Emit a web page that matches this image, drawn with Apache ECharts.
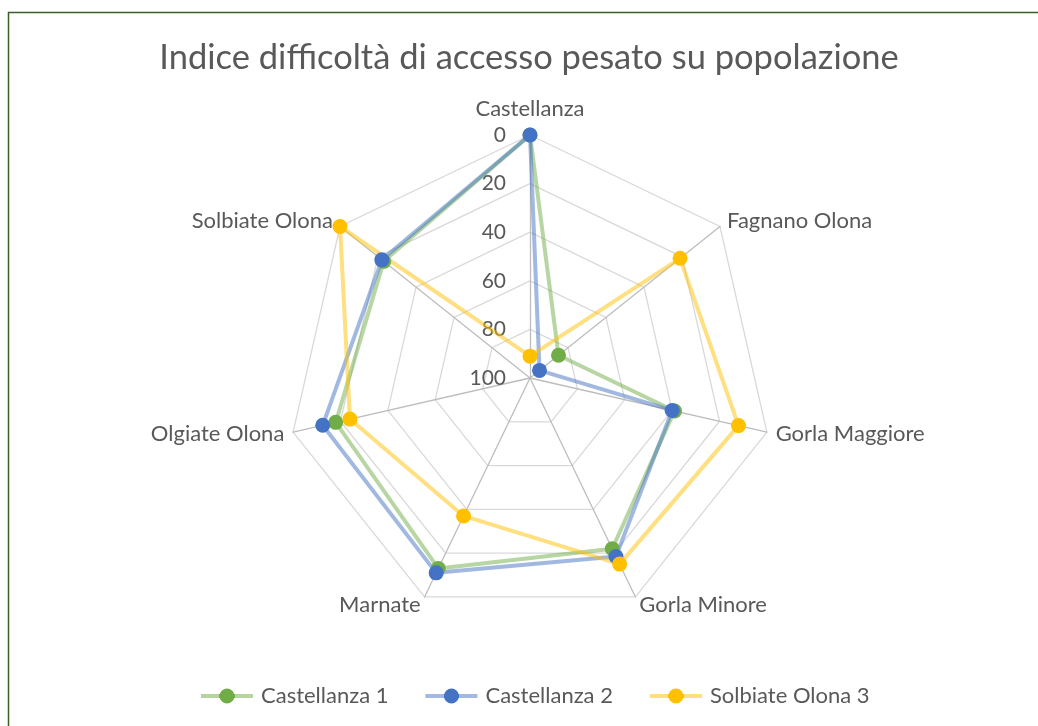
<!DOCTYPE html>
<html>
<head>
<meta charset="utf-8">
<script src="https://cdn.jsdelivr.net/npm/echarts@6/dist/echarts.min.js"></script>
<style>
  html, body { margin: 0; padding: 0; background: #ffffff; }
  #chart { width: 1038px; height: 726px; }
</style>
</head>
<body>
<div id="chart"></div>
<script>
// ---- data (index value: 0 = outer ring, 100 = centre) ----
const categories = ['Castellanza', 'Fagnano Olona', 'Gorla Maggiore', 'Gorla Minore', 'Marnate', 'Olgiate Olona', 'Solbiate Olona'];
const seriesNames = ['Castellanza 1', 'Castellanza 2', 'Solbiate Olona 3'];
const castellanza1 = [0, 85, 39, 22, 13, 18, 23];
const castellanza2 = [0, 95, 40, 18.5, 11, 12.5, 22];
const solbiateOlona3 = [91, 21, 12, 15, 37, 24, 0];
const tickLabels = [0, 20, 40, 60, 80, 100];
const axisMin = 0, axisMax = 100;

const markerColors = ['#70AD47', '#4472C4', '#FFC000'];
const lineColors = ['#B5D4A0', '#A2B9E2', '#FFDF80'];
const FONT = 'Lato, "Open Sans", sans-serif';
const TXT = '#595959';

// Excel draws clockwise; ECharts radar goes counter-clockwise -> reorder
const order = [0, 6, 5, 4, 3, 2, 1];
const reorder = arr => order.map(i => arr[i]);
// axis is reversed (0 outside, 100 centre)
const rev = arr => reorder(arr).map(v => axisMax - v);

const indicators = reorder(categories).map((name, i) => {
  const ind = { name: name, min: axisMin, max: axisMax, nameMoveOverlap: false };
  if (i === 0) ind.axisLabel = { show: true };
  return ind;
});

const allSeries = [castellanza1, castellanza2, solbiateOlona3];

// legend icon: line with a marker in its middle
const legendIconPath = 'path://M0,5.5 L52,5.5 L52,9.5 L0,9.5 Z M33.5,7.5 A7.5,7.5 0 1 1 18.5,7.5 A7.5,7.5 0 1 1 33.5,7.5 Z';
const iconFill = i => ({
  type: 'linear', x: 0, y: 0, x2: 1, y2: 0,
  colorStops: [
    { offset: 0, color: lineColors[i] },
    { offset: 0.352, color: lineColors[i] },
    { offset: 0.353, color: markerColors[i] },
    { offset: 0.647, color: markerColors[i] },
    { offset: 0.648, color: lineColors[i] },
    { offset: 1, color: lineColors[i] }
  ]
});

const chart = echarts.init(document.getElementById('chart'), null, { renderer: 'canvas' });
chart.setOption({
  backgroundColor: '#ffffff',
  animation: false,
  title: {
    text: 'Indice difficoltà di accesso pesato su popolazione',
    left: 524,
    textAlign: 'center',
    top: 35,
    textStyle: { fontFamily: FONT, fontSize: 34.5, fontWeight: 'normal', color: TXT }
  },
  graphic: [{
    type: 'rect',
    shape: { x: 8.5, y: 12.5, width: 1200, height: 900 },
    style: { fill: 'none', stroke: '#3B5E27', lineWidth: 1.5 },
    silent: true
  }],
  legend: {
    left: 196,
    top: 680,
    itemWidth: 52,
    itemHeight: 15,
    itemGap: 37,
    selectedMode: false,
    icon: legendIconPath,
    textStyle: { fontFamily: FONT, fontSize: 22, color: TXT, padding: [0, 0, 0, 3] },
    data: seriesNames.map((n, i) => ({ name: n, itemStyle: { color: iconFill(i), borderWidth: 0 } }))
  },
  radar: {
    center: [530, 378],
    radius: 243,
    startAngle: 90,
    shape: 'polygon',
    splitNumber: 5,
    nameGap: 9,
    nameMoveOverlap: false,
    axisName: {
      fontFamily: FONT, fontSize: 22, color: TXT,
      formatter: name => name === categories[0] ? '{top|' + name + '}' : name,
      rich: { top: { fontFamily: FONT, fontSize: 22, color: TXT, padding: [0, 0, 6, 0] } }
    },
    axisLine: { lineStyle: { color: '#BDBDBD', width: 1.3 } },
    splitLine: { lineStyle: { color: '#D9D9D9', width: 1.3 } },
    splitArea: { show: false },
    axisTick: { show: false },
    axisLabel: {
      show: false,
      fontFamily: FONT, fontSize: 21, color: TXT, margin: 24,
      formatter: v => String(axisMax - v)
    },
    indicator: indicators
  },
  series: [{
    type: 'radar',
    symbol: 'circle',
    symbolSize: 15,
    data: allSeries.map((arr, i) => ({
      name: seriesNames[i],
      value: rev(arr),
      itemStyle: { color: markerColors[i] },
      lineStyle: { color: markerColors[i], width: 4, opacity: 0.5 }
    }))
  }]
});
</script>
</body>
</html>
